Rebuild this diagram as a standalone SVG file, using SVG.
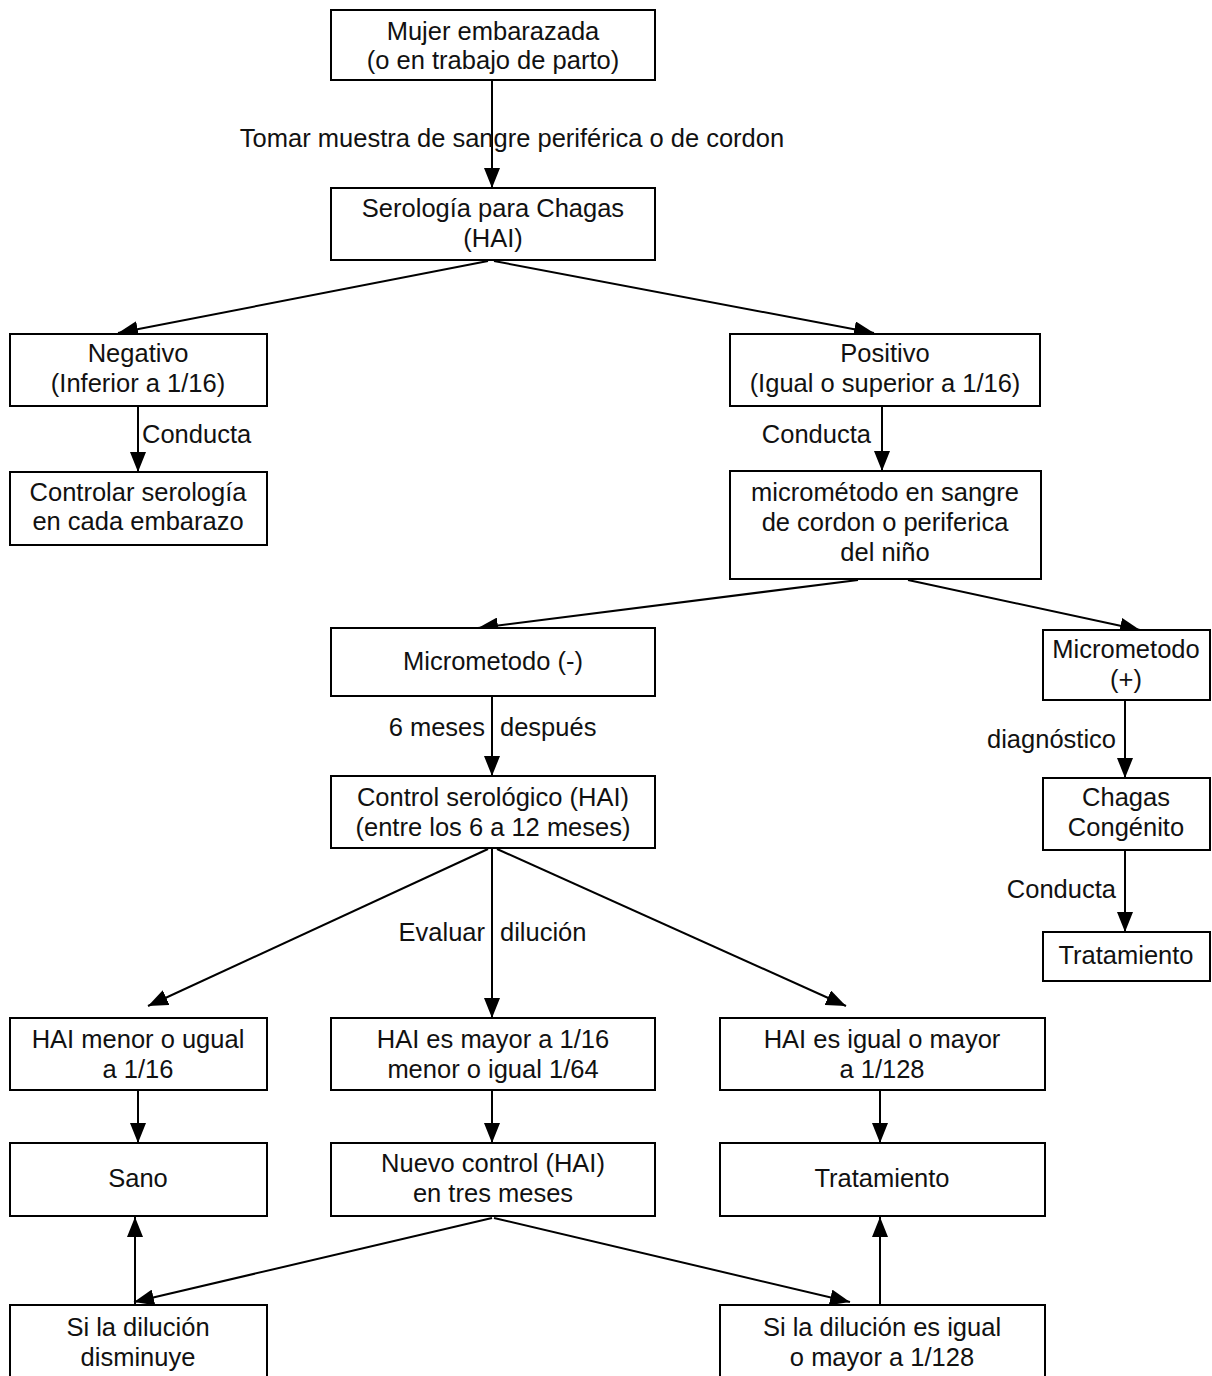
<svg xmlns="http://www.w3.org/2000/svg" width="1212" height="1376" viewBox="0 0 1212 1376">
<defs>
<marker id="ah" viewBox="0 0 20 16" refX="20" refY="8" markerWidth="20" markerHeight="16" markerUnits="userSpaceOnUse" orient="auto">
<path d="M0,0 L20,8 L0,16 Z" fill="#000"/>
</marker>
<style>
rect{fill:#fff;stroke:#000;stroke-width:2}
text{font-family:"Liberation Sans",Arial,sans-serif;font-size:25.5px;fill:#111}
.c{text-anchor:middle}
.e{text-anchor:end}
#connectors line{stroke:#000;stroke-width:2;marker-end:url(#ah)}
</style>
</defs>
<rect x="0" y="0" width="1212" height="1376" style="fill:#fff;stroke:none"/>
<g id="connectors">
<line x1="492" y1="81" x2="492" y2="188"/>
<line x1="488" y1="261" x2="118" y2="333"/>
<line x1="494" y1="261" x2="874" y2="333"/>
<line x1="138" y1="407" x2="138" y2="472"/>
<line x1="882" y1="407" x2="882" y2="471"/>
<line x1="858" y1="580" x2="478" y2="628"/>
<line x1="908" y1="580" x2="1140" y2="630"/>
<line x1="492" y1="697" x2="492" y2="776"/>
<line x1="1125" y1="701" x2="1125" y2="778"/>
<line x1="1125" y1="851" x2="1125" y2="932"/>
<line x1="488" y1="849" x2="148" y2="1006"/>
<line x1="492" y1="849" x2="492" y2="1018"/>
<line x1="497" y1="849" x2="846" y2="1006"/>
<line x1="138" y1="1091" x2="138" y2="1143"/>
<line x1="492" y1="1091" x2="492" y2="1143"/>
<line x1="880" y1="1091" x2="880" y2="1143"/>
<line x1="492" y1="1218" x2="134" y2="1302"/>
<line x1="494" y1="1218" x2="850" y2="1302"/>
<line x1="135" y1="1305" x2="135" y2="1217"/>
<line x1="880" y1="1305" x2="880" y2="1217"/>
</g>
<g id="labels">
<text class="c" x="512" y="147">Tomar muestra de sangre periférica o de cordon</text>
<text x="142" y="443">Conducta</text>
<text class="e" x="871" y="443">Conducta</text>
<text class="e" x="485" y="736">6 meses</text>
<text x="500" y="736">después</text>
<text class="e" x="1116" y="748">diagnóstico</text>
<text class="e" x="1116" y="898">Conducta</text>
<text class="e" x="485" y="941">Evaluar</text>
<text x="500" y="941">dilución</text>
</g>
<g id="n1"><rect x="331" y="10" width="324" height="70"/><text class="c" x="493" y="40">Mujer embarazada</text><text class="c" x="493" y="69">(o en trabajo de parto)</text></g>
<g id="n2"><rect x="331" y="188" width="324" height="72"/><text class="c" x="493" y="217">Serología para Chagas</text><text class="c" x="493" y="247">(HAI)</text></g>
<g id="n3"><rect x="10" y="334" width="257" height="72"/><text class="c" x="138" y="362">Negativo</text><text class="c" x="138" y="392">(Inferior a 1/16)</text></g>
<g id="n4"><rect x="730" y="334" width="310" height="72"/><text class="c" x="885" y="362">Positivo</text><text class="c" x="885" y="392">(Igual o superior a 1/16)</text></g>
<g id="n5"><rect x="10" y="472" width="257" height="73"/><text class="c" x="138" y="501">Controlar serología</text><text class="c" x="138" y="530">en cada embarazo</text></g>
<g id="n6"><rect x="730" y="471" width="311" height="108"/><text class="c" x="885" y="501">micrométodo en sangre</text><text class="c" x="885" y="531">de cordon o periferica</text><text class="c" x="885" y="561">del niño</text></g>
<g id="n7"><rect x="331" y="628" width="324" height="68"/><text class="c" x="493" y="670">Micrometodo (-)</text></g>
<g id="n8"><rect x="1043" y="630" width="167" height="70"/><text class="c" x="1126" y="658">Micrometodo</text><text class="c" x="1126" y="688">(+)</text></g>
<g id="n9"><rect x="331" y="776" width="324" height="72"/><text class="c" x="493" y="806">Control serológico (HAI)</text><text class="c" x="493" y="836">(entre los 6 a 12 meses)</text></g>
<g id="n10"><rect x="1043" y="778" width="167" height="72"/><text class="c" x="1126" y="806">Chagas</text><text class="c" x="1126" y="836">Congénito</text></g>
<g id="n11"><rect x="1043" y="932" width="167" height="49"/><text class="c" x="1126" y="964">Tratamiento</text></g>
<g id="n12"><rect x="10" y="1018" width="257" height="72"/><text class="c" x="138" y="1048">HAI menor o ugual</text><text class="c" x="138" y="1078">a 1/16</text></g>
<g id="n13"><rect x="331" y="1018" width="324" height="72"/><text class="c" x="493" y="1048">HAI es mayor a 1/16</text><text class="c" x="493" y="1078">menor o igual 1/64</text></g>
<g id="n14"><rect x="720" y="1018" width="325" height="72"/><text class="c" x="882" y="1048">HAI es igual o mayor</text><text class="c" x="882" y="1078">a 1/128</text></g>
<g id="n15"><rect x="10" y="1143" width="257" height="73"/><text class="c" x="138" y="1187">Sano</text></g>
<g id="n16"><rect x="331" y="1143" width="324" height="73"/><text class="c" x="493" y="1172">Nuevo control (HAI)</text><text class="c" x="493" y="1202">en tres meses</text></g>
<g id="n17"><rect x="720" y="1143" width="325" height="73"/><text class="c" x="882" y="1187">Tratamiento</text></g>
<g id="n18"><rect x="10" y="1305" width="257" height="80"/><text class="c" x="138" y="1336">Si la dilución</text><text class="c" x="138" y="1366">disminuye</text></g>
<g id="n19"><rect x="720" y="1305" width="325" height="80"/><text class="c" x="882" y="1336">Si la dilución es igual</text><text class="c" x="882" y="1366">o mayor a 1/128</text></g>
</svg>
